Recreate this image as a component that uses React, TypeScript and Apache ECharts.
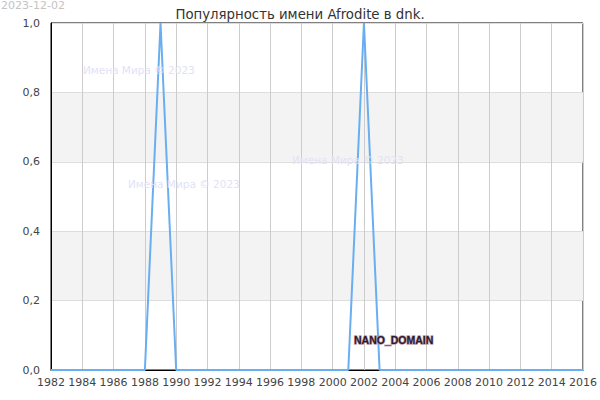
import React, { useEffect, useRef } from "react";
import * as echarts from "echarts";

const years: number[] = [];
for (let y = 1982; y <= 2016; y++) years.push(y);
const peakYears = [1989, 2002];
const values: number[] = years.map((y) => (peakYears.includes(y) ? 1 : 0));
const yTicks = [0, 0.2, 0.4, 0.6, 0.8, 1.0];
const titleText = "Популярность имени Afrodite в dnk.";
const dateText = "2023-12-02";
const watermark = "Имена Мира © 2023";

export default function App() {
  const ref = useRef<HTMLDivElement>(null);
  useEffect(() => {
    if (!ref.current) return;
    const chart = echarts.init(ref.current, undefined, { renderer: "svg" });
    const font = "DejaVu Sans";
    const wm = "#e2e2f6";
    chart.setOption({
      animation: false,
      backgroundColor: "#fff",
      title: {
        text: titleText,
        left: "center",
        top: 3,
        textStyle: { fontFamily: font, fontSize: 13.3, fontWeight: "normal", color: "#333" },
      },
      grid: {
        left: 51,
        right: 15,
        top: 23,
        bottom: 30,
        show: true,
        borderColor: "#000",
        borderWidth: 1,
        backgroundColor: "transparent",
      },
      xAxis: {
        type: "value",
        min: 1982,
        max: 2016,
        interval: 2,
        axisLine: { show: true, lineStyle: { color: "#000", width: 1 } },
        axisTick: { show: false },
        axisLabel: { fontFamily: font, fontSize: 11, color: "#444", margin: 7, formatter: (v: number) => String(v) },
        splitLine: { show: true, lineStyle: { color: "#ccc", width: 1 } },
      },
      yAxis: {
        type: "value",
        min: 0,
        max: 1,
        interval: 0.2,
        axisLine: { show: true, lineStyle: { color: "#000", width: 1 } },
        axisTick: { show: false },
        axisLabel: {
          fontFamily: font,
          fontSize: 11,
          color: "#444",
          margin: 11,
          formatter: (v: number) => (yTicks.find((t) => Math.abs(t - v) < 1e-9) ?? v).toFixed(1).replace(".", ","),
        },
        splitLine: { show: true, lineStyle: { color: "#ddd", width: 1 } },
        splitArea: { show: true, areaStyle: { color: ["rgba(255,255,255,0)", "#f3f3f3"] } },
      },
      series: [
        {
          type: "line",
          data: years.map((y, i) => [y, values[i]]),
          showSymbol: false,
          symbol: "none",
          lineStyle: { color: "#6aaef2", width: 2 },
          clip: false,
        },
      ],
      graphic: {
        elements: [
          {
            id: "date",
            type: "text",
            x: 1,
            y: 0,
            z: 100,
            style: { text: dateText, fontFamily: font, fontSize: 11, fill: "#c4c4c4", textVerticalAlign: "top" },
          },
          {
            id: "wm1",
            type: "text",
            x: 83,
            y: 64,
            z: 100,
            style: { text: watermark, fontFamily: font, fontSize: 10.5, fill: wm },
          },
          {
            id: "wm2",
            type: "text",
            x: 128,
            y: 178,
            z: 100,
            style: { text: watermark, fontFamily: font, fontSize: 10.5, fill: wm },
          },
          {
            id: "wm3",
            type: "text",
            x: 292,
            y: 154,
            z: 100,
            style: { text: watermark, fontFamily: font, fontSize: 10.5, fill: wm },
          },
          {
            id: "nano",
            type: "text",
            x: 354,
            y: 334,
            z: 100,
            style: {
              text: "NANO_DOMAIN",
              fontFamily: "Liberation Sans",
              fontSize: 10.5,
              fontWeight: "bold",
              fill: "#2a1a2a",
              stroke: "#b9a",
              lineWidth: 1.4,
            },
          },
        ],
      },
    });
    return () => chart.dispose();
  }, []);
  return <div ref={ref} style={{ width: 600, height: 400, position: "absolute", left: 0, top: 0 }} />;
}
